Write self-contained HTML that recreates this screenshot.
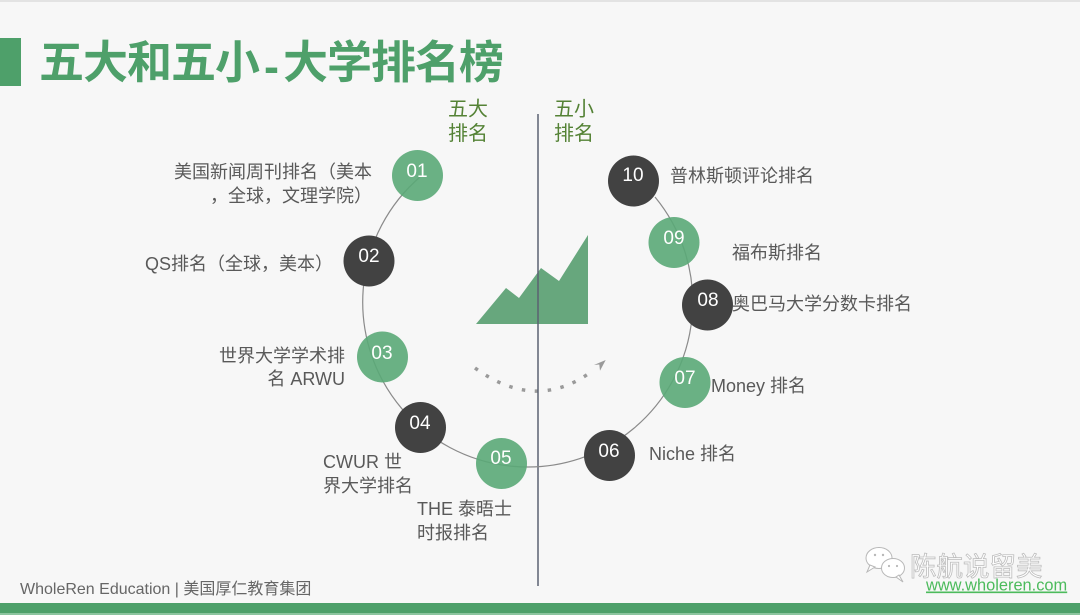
<!DOCTYPE html>
<html>
<head>
<meta charset="utf-8">
<style>
  html,body{margin:0;padding:0;background:#f7f7f7;}
  body{width:1080px;height:615px;overflow:hidden;position:relative;}
  svg{position:absolute;left:0;top:0;}
  .lbl{font-family:"Liberation Sans","Noto Sans CJK SC",sans-serif;font-size:18px;fill:#595959;}
  .num{font-family:"Liberation Sans",sans-serif;font-size:19px;fill:#ffffff;text-anchor:middle;}
  .sub{font-family:"Liberation Sans","Noto Sans CJK SC",sans-serif;font-size:20px;fill:#548235;}
</style>
</head>
<body>
<svg width="1080" height="615" viewBox="0 0 1080 615" xmlns="http://www.w3.org/2000/svg">
  <rect x="0" y="0" width="1080" height="615" fill="#f7f7f7"/>
  <rect x="0" y="0" width="1080" height="2" fill="#e3e3e3"/>

  <!-- title -->
  <rect x="0" y="38" width="21" height="48" fill="#4ea06a"/>
  <text x="39" y="78" font-family="'Liberation Sans','Noto Sans CJK SC',sans-serif" font-size="45" font-weight="bold" fill="#4ea06a" letter-spacing="-1">五大和五小<tspan dx="5" dy="4">-</tspan><tspan dx="5" dy="-4">大学排名榜</tspan></text>

  <!-- subheaders -->
  <text class="sub" x="448" y="115.6">五大</text>
  <text class="sub" x="448" y="140.1">排名</text>
  <text class="sub" x="554" y="115.6">五小</text>
  <text class="sub" x="554" y="140.1">排名</text>

  <!-- chart icon -->
  <polygon points="476,324 506,288 519,298 541,268 559,281 588,235 588,324" fill="#67a77d"/>

  <!-- dotted arc -->
  <path d="M475,368 Q534,411 588,374" fill="none" stroke="#9a9a9a" stroke-width="3.5" stroke-dasharray="3.5 9.5"/>
  <polygon points="605.7,360 594,365 599.3,364.5 600,370.7" fill="#9a9a9a"/>

  <!-- vertical divider -->
  <line x1="538" y1="114" x2="538" y2="586" stroke="#5b6272" stroke-width="1.5"/>

  <!-- big arc -->
  <path d="M420,177 A165,165 0 1 0 655,197" fill="none" stroke="#8a8a8a" stroke-width="1.2"/>

  <!-- circles -->
  <g fill="#5aa877" fill-opacity="0.9">
    <circle cx="417.5" cy="175.5" r="25.5"/>
    <circle cx="382.5" cy="357" r="25.5"/>
    <circle cx="501.5" cy="463.5" r="25.5"/>
    <circle cx="685" cy="382.5" r="25.5"/>
    <circle cx="674" cy="242.5" r="25.5"/>
  </g>
  <g fill="#424242">
    <circle cx="369" cy="261" r="25.5"/>
    <circle cx="420.5" cy="427.5" r="25.5"/>
    <circle cx="609.5" cy="455.5" r="25.5"/>
    <circle cx="707.5" cy="305" r="25.5"/>
    <circle cx="633.5" cy="181" r="25.5"/>
  </g>

  <!-- numbers -->
  <text class="num" x="417" y="176.8">01</text>
  <text class="num" x="369" y="261.8">02</text>
  <text class="num" x="382" y="358.8">03</text>
  <text class="num" x="420" y="428.8">04</text>
  <text class="num" x="501" y="463.8">05</text>
  <text class="num" x="609" y="456.8">06</text>
  <text class="num" x="685" y="383.8">07</text>
  <text class="num" x="708" y="305.8">08</text>
  <text class="num" x="674" y="243.8">09</text>
  <text class="num" x="633" y="180.8">10</text>

  <!-- labels left -->
  <text class="lbl" x="372" y="177.8" text-anchor="end">美国新闻周刊排名（美本</text>
  <text class="lbl" x="372" y="201.8" text-anchor="end">，全球，文理学院）</text>
  <text class="lbl" x="145" y="269.8">QS排名（全球，美本）</text>
  <text class="lbl" x="345" y="361.8" text-anchor="end">世界大学学术排</text>
  <text class="lbl" x="345" y="384.8" text-anchor="end">名 ARWU</text>
  <text class="lbl" x="323" y="467.8">CWUR 世</text>
  <text class="lbl" x="323" y="491.8">界大学排名</text>
  <text class="lbl" x="417" y="514.8">THE 泰晤士</text>
  <text class="lbl" x="417" y="538.8">时报排名</text>

  <!-- labels right -->
  <text class="lbl" x="649" y="459.8">Niche 排名</text>
  <text class="lbl" x="711" y="391.8">Money 排名</text>
  <text class="lbl" x="670" y="181.8">普林斯顿评论排名</text>
  <text class="lbl" x="732" y="258.8">福布斯排名</text>
  <text class="lbl" x="732" y="309.8">奥巴马大学分数卡排名</text>

  <!-- footer -->
  <text x="20" y="594" font-family="'Liberation Sans','Noto Sans CJK SC',sans-serif" font-size="16" fill="#666666">WholeRen Education | 美国厚仁教育集团</text>

  <!-- wechat watermark -->
  <g stroke="#b8b8b8" stroke-width="1" fill="#ffffff">
    <ellipse cx="879" cy="558" rx="13" ry="10.5"/>
    <path d="M870,565 L867,572 L875,567 Z"/>
    <ellipse cx="893" cy="568" rx="11.5" ry="9.5"/>
    <path d="M899,575 L903,582 L896,577 Z"/>
  </g>
  <g fill="#b8b8b8">
    <circle cx="875" cy="555" r="1.2"/>
    <circle cx="883" cy="555" r="1.2"/>
    <circle cx="889" cy="566" r="1.1"/>
    <circle cx="897" cy="566" r="1.1"/>
  </g>
  <text x="910" y="576" font-family="'Liberation Sans','Noto Sans CJK SC',sans-serif" font-size="26.5" fill="#ffffff" stroke="#bdbdbd" stroke-width="0.8">陈航说留美</text>
  <text x="926" y="590.5" font-family="'Liberation Sans',sans-serif" font-size="16.4" fill="#4cbb5c" text-decoration="underline">www.wholeren.com</text>

  <!-- bottom bar -->
  <rect x="0" y="603" width="1080" height="10" fill="#4ea06a"/>
  <rect x="0" y="613" width="1080" height="2" fill="#8cc59f"/>
</svg>
</body>
</html>
